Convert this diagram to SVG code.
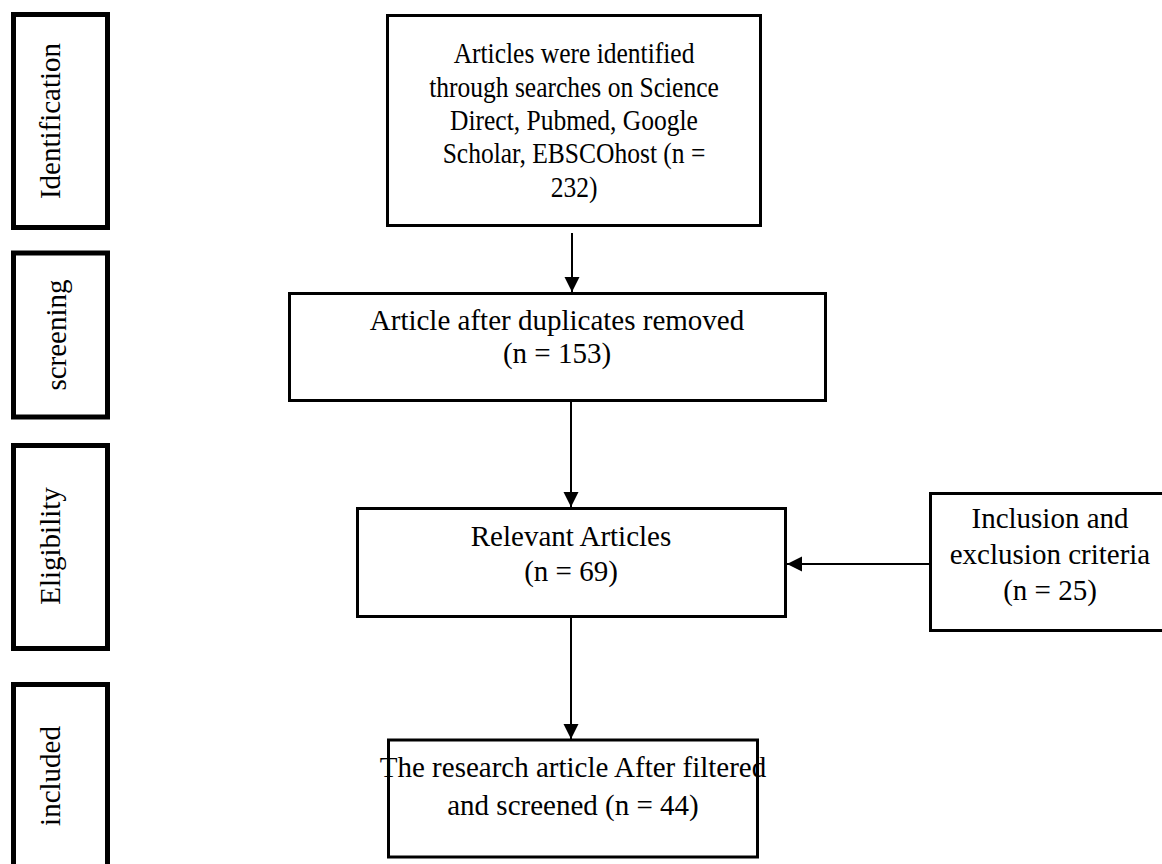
<svg xmlns="http://www.w3.org/2000/svg" width="1162" height="864" viewBox="0 0 1162 864">
<style>
  .stage { fill: #fff; stroke: #000; stroke-width: 5; }
  .box { fill: #fff; stroke: #000; stroke-width: 3; }
  .t { font-family: "Liberation Serif", "Times New Roman", serif; font-size: 29px; fill: #000; text-anchor: middle; }
  .conn { stroke: #000; stroke-width: 2; fill: none; marker-end: url(#arrow); }
</style>
<defs>
  <marker id="arrow" markerUnits="userSpaceOnUse" markerWidth="17" markerHeight="17" viewBox="0 0 17 17" refX="15" refY="8.5" orient="auto">
    <path d="M0,1 L15,8.5 L0,16 z" fill="#000"/>
  </marker>
</defs>
<rect width="1162" height="864" fill="#fff"/>

<g id="stage-identification">
  <rect class="stage" x="13.5" y="14.5" width="94" height="213"/>
  <text class="t" transform="translate(60,121) rotate(-90)">Identification</text>
</g>
<g id="stage-screening">
  <rect class="stage" x="13.5" y="253" width="94" height="164"/>
  <text class="t" transform="translate(66,335) rotate(-90)">screening</text>
</g>
<g id="stage-eligibility">
  <rect class="stage" x="13.5" y="445.5" width="94" height="203"/>
  <text class="t" transform="translate(60,546) rotate(-90)">Eligibility</text>
</g>
<g id="stage-included">
  <rect class="stage" x="13.5" y="684.5" width="94" height="200"/>
  <text class="t" transform="translate(60,776) rotate(-90)">included</text>
</g>

<g id="connectors">
  <line class="conn" x1="572" y1="233" x2="572" y2="292"/>
  <line class="conn" x1="571" y1="402" x2="571" y2="507"/>
  <line class="conn" x1="571" y1="618" x2="571" y2="739"/>
  <line class="conn" x1="929" y1="564" x2="787" y2="564"/>
</g>

<g id="identified">
  <rect class="box" x="387.5" y="15.5" width="373" height="210"/>
  <g transform="translate(574 0) scale(0.88 1)">
    <text class="t" x="0" y="63">Articles were identified</text>
    <text class="t" x="0" y="97">through searches on Science</text>
    <text class="t" x="0" y="130">Direct, Pubmed, Google</text>
    <text class="t" x="0" y="163">Scholar, EBSCOhost (n =</text>
    <text class="t" x="0" y="197">232)</text>
  </g>
</g>
<g id="deduplicated">
  <rect class="box" x="289.5" y="293.5" width="536" height="107"/>
  <text class="t" x="557" y="330">Article after duplicates removed</text>
  <text class="t" x="557" y="363">(n = 153)</text>
</g>
<g id="relevant">
  <rect class="box" x="357.5" y="508.5" width="428" height="108"/>
  <text class="t" x="571" y="546">Relevant Articles</text>
  <text class="t" x="571" y="581">(n = 69)</text>
</g>
<g id="criteria">
  <rect class="box" x="930.5" y="493.5" width="240" height="137"/>
  <text class="t" x="1050" y="528">Inclusion and</text>
  <text class="t" x="1050" y="564">exclusion criteria</text>
  <text class="t" x="1050" y="600">(n = 25)</text>
</g>
<g id="included-articles">
  <rect class="box" x="388.5" y="740" width="369" height="117"/>
  <text class="t" x="573" y="777">The research article After filtered</text>
  <text class="t" x="573" y="815">and screened (n = 44)</text>
</g>
</svg>
